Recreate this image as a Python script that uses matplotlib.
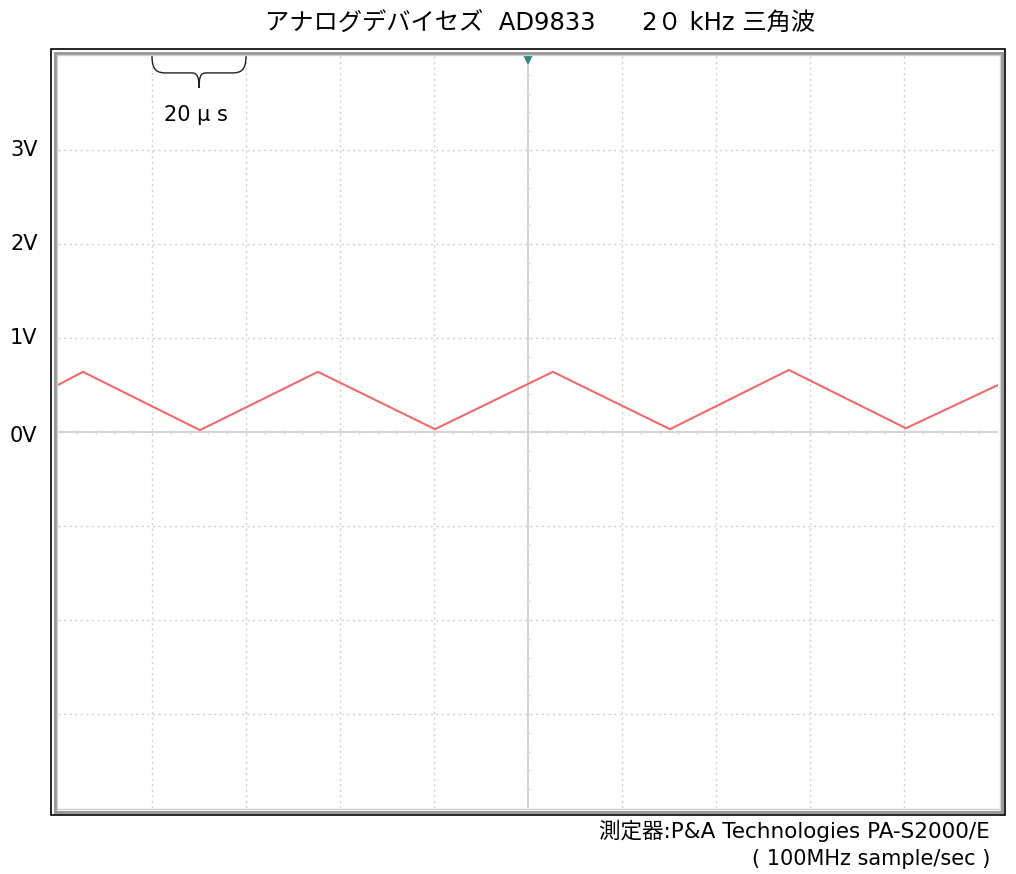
import matplotlib
matplotlib.use("Agg")
import matplotlib.pyplot as plt
from matplotlib.patches import Rectangle, PathPatch
from matplotlib.path import Path

plt.rcParams['font.family'] = ['DejaVu Sans', 'Noto Sans CJK JP']

# ---- data ----
times_us = [0, 5.3, 30.2, 55.3, 80.2, 105.3, 130.2, 155.5, 180.4, 200]
volts = [0.50, 0.64, 0.02, 0.64, 0.03, 0.64, 0.03, 0.66, 0.04, 0.50]
ytick_vals = [3, 2, 1, 0]
ytick_labels = ["3V", "2V", "1V", "0V"]
title = "アナログデバイセズ  AD9833      2０ kHz 三角波"
footer1 = "測定器:P&A Technologies PA-S2000/E"
footer2 = "( 100MHz sample/sec )"
time_div_label = "20 μ s"

W, H = 1016, 874
fig = plt.figure(figsize=(W / 100, H / 100), dpi=100)

def fx(px):
    return px / W

def fy(py):
    return 1 - py / H

# frame (outer black, gray bevel)
fig.patches.append(Rectangle((fx(51), fy(815)), fx(1005) - fx(51), fy(49) - fy(815),
                             transform=fig.transFigure, fill=False, ec='black', lw=1.2))
fig.patches.append(Rectangle((fx(54.5), fy(811.5)), fx(1002) - fx(54.5), fy(52.5) - fy(811.5),
                             transform=fig.transFigure, fill=False, ec='#9a9a9a', lw=2.2))
fig.patches.append(Rectangle((fx(57), fy(809)), fx(999.5) - fx(57), fy(55) - fy(809),
                             transform=fig.transFigure, fill=False, ec='#d0d0d0', lw=1.0))

ax = fig.add_axes([fx(58), fy(808), fx(998) - fx(58), fy(56) - fy(808)])
ax.set_xlim(0, 200)
ax.set_ylim(-4, 4)
ax.axis('off')

grid_kw = dict(color='#cfcfcf', lw=1.0, ls=(0, (1.5, 2.5)), zorder=1)
for t in range(20, 200, 20):
    if t != 100:
        ax.axvline(t, **grid_kw)
for v in range(-3, 4):
    if v != 0:
        ax.axhline(v, **grid_kw)

ax.axvline(100, color='#cccccc', lw=1.2, zorder=1)
ax.axhline(0, color='#cccccc', lw=1.2, zorder=1)
# minor ticks on center axes
tx = [i * 4 for i in range(1, 50)]
ax.vlines(tx, -0.025, 0.025, color='#d4d4d4', lw=1.0, zorder=1)
ty = [i * 0.2 - 4 for i in range(1, 40)]
ax.hlines(ty, 100 - 0.5, 100 + 0.5, color='#d4d4d4', lw=1.0, zorder=1)

# waveform
ax.plot(times_us, volts, color='#f06a6a', lw=1.5, zorder=3)

# trigger marker
ax.plot([100], [3.965], marker='v', color='#2a8a7a', markersize=8, mew=0, clip_on=False, zorder=4)

# brace for 20 us
x0, x1 = 20, 40
xm = (x0 + x1) / 2
yt, yb, ytip = 4.0, 3.82, 3.66
verts = [(x0, yt), (x0, yb + 0.02), (x0 + 1.2, yb), (x0 + 3, yb),
         (xm - 1.5, yb),
         (xm - 0.3, yb), (xm, yb - 0.05), (xm, ytip),
         (xm, yb - 0.05), (xm + 0.3, yb), (xm + 1.5, yb),
         (x1 - 3, yb),
         (x1 - 1.2, yb), (x1, yb + 0.02), (x1, yt)]
codes = [Path.MOVETO, Path.CURVE4, Path.CURVE4, Path.CURVE4,
         Path.LINETO,
         Path.CURVE4, Path.CURVE4, Path.CURVE4,
         Path.CURVE4, Path.CURVE4, Path.CURVE4,
         Path.LINETO,
         Path.CURVE4, Path.CURVE4, Path.CURVE4]
ax.add_patch(PathPatch(Path(verts, codes), fill=False, ec='#222222', lw=1.0, clip_on=False, zorder=4))
ax.text(29.3, 3.37, time_div_label, ha='center', va='center', fontsize=15, color='black')

# y labels
for v, lab in zip(ytick_vals, ytick_labels):
    ypix = 432 - v * 94 + (4 if v == 0 else 0)
    fig.text(fx(10), fy(ypix), lab, ha='left', va='center', fontsize=15)

fig.text(fx(540), fy(24), title, ha='center', va='center', fontsize=17.5)
fig.text(fx(990), fy(831), footer1, ha='right', va='center', fontsize=15.5)
fig.text(fx(990), fy(859), footer2, ha='right', va='center', fontsize=15)

fig.savefig('out.png', dpi=100)
